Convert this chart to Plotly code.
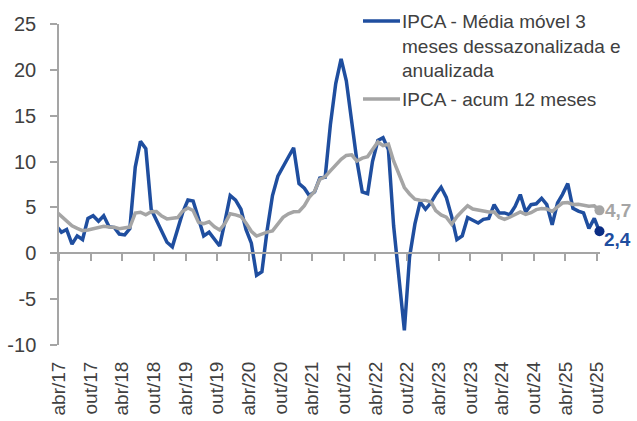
import pandas as pd
import plotly.graph_objects as go

# Monthly data, mar/17 .. out/25 (mar/17 only feeds the clipped line start)
months = pd.date_range("2017-03-01", "2025-10-01", freq="MS")

ipca_3m_saar_2017 = [3.0, 2.3, 2.6, 1.0, 1.9, 1.5, 3.8, 4.1, 3.5, 4.1]
ipca_3m_saar_2018 = [2.9, 2.8, 2.1, 2.0, 2.7, 9.4, 12.2, 11.4, 4.8, 3.6, 2.2, 1.2]
ipca_3m_saar_2019 = [0.7, 2.6, 4.4, 5.8, 5.7, 3.8, 1.9, 2.3, 1.6, 0.8, 3.5, 6.3]
ipca_3m_saar_2020 = [5.8, 4.8, 2.6, 1.1, -2.4, -2.0, 2.5, 6.3, 8.4, 9.5, 10.5, 11.5]
ipca_3m_saar_2021 = [7.6, 7.1, 6.3, 6.7, 8.2, 8.3, 14.0, 18.5, 21.2, 18.8, 14.5, 10.1]
ipca_3m_saar_2022 = [6.7, 6.5, 10.0, 12.3, 12.6, 11.3, 3.0, -2.9, -8.4, -0.4, 3.2, 5.6]
ipca_3m_saar_2023 = [4.8, 5.5, 6.4, 7.2, 6.1, 4.0, 1.5, 1.9, 3.9, 3.6, 3.3, 3.7]
ipca_3m_saar_2024 = [3.8, 5.3, 4.4, 4.4, 4.2, 5.1, 6.4, 4.5, 5.3, 5.4, 6.0, 5.3]
ipca_3m_saar_2025 = [3.1, 5.5, 6.4, 7.6, 4.9, 4.6, 4.4, 2.7, 3.8, 2.4]

ipca_12m_2017 = [4.57, 4.08, 3.60, 3.00, 2.71, 2.46, 2.54, 2.70, 2.80, 2.95]
ipca_12m_2018 = [2.86, 2.84, 2.68, 2.76, 2.86, 4.39, 4.48, 4.19, 4.53, 4.56, 4.05, 3.75]
ipca_12m_2019 = [3.78, 3.89, 4.58, 4.94, 4.66, 3.37, 3.22, 3.43, 2.89, 2.54, 3.27, 4.31]
ipca_12m_2020 = [4.19, 4.01, 3.30, 2.40, 1.88, 2.13, 2.31, 2.44, 3.14, 3.92, 4.31, 4.52]
ipca_12m_2021 = [4.56, 5.20, 6.10, 6.76, 8.06, 8.35, 8.99, 9.68, 10.25, 10.67, 10.74, 10.06]
ipca_12m_2022 = [10.38, 10.54, 11.30, 12.13, 11.73, 11.89, 10.07, 8.73, 7.17, 6.47, 5.90, 5.79]
ipca_12m_2023 = [5.77, 5.60, 4.65, 4.18, 3.94, 3.16, 3.99, 4.61, 5.19, 4.82, 4.68, 4.62]
ipca_12m_2024 = [4.51, 4.50, 3.93, 3.69, 3.93, 4.23, 4.50, 4.24, 4.42, 4.76, 4.87, 4.83]
ipca_12m_2025 = [4.56, 5.06, 5.48, 5.53, 5.32, 5.35, 5.23, 5.13, 5.17, 4.68]

ipca_3m = (ipca_3m_saar_2017 + ipca_3m_saar_2018 + ipca_3m_saar_2019 + ipca_3m_saar_2020
           + ipca_3m_saar_2021 + ipca_3m_saar_2022 + ipca_3m_saar_2023 + ipca_3m_saar_2024
           + ipca_3m_saar_2025)
ipca_12m = (ipca_12m_2017 + ipca_12m_2018 + ipca_12m_2019 + ipca_12m_2020 + ipca_12m_2021
            + ipca_12m_2022 + ipca_12m_2023 + ipca_12m_2024 + ipca_12m_2025)

tick_dates = pd.date_range("2017-04-01", "2025-10-01", freq="6MS")
month_pt = {4: "abr", 10: "out"}
tick_labels = [f"{month_pt[d.month]}/{d.year % 100:02d}" for d in tick_dates]

y_ticks = [-10, -5, 0, 5, 10, 15, 20, 25]
y_tick_labels = [str(v) for v in y_ticks]

name_3m = "IPCA - Média móvel 3<br>meses dessazonalizada e<br>anualizada"
name_12m = "IPCA - acum 12 meses"

BLUE = "#1F4E9F"
BLUE_DARK = "#0B2D84"
GRAY = "#A5A5A5"
TXT = "#404040"
FONT = "Arial, Liberation Sans, sans-serif"

x = months + pd.Timedelta(days=14)

fig = go.Figure()
fig.add_trace(go.Scatter(x=x, y=ipca_3m, mode="lines", name=name_3m,
                         line=dict(color=BLUE, width=3.5), showlegend=False))
fig.add_trace(go.Scatter(x=x, y=ipca_12m, mode="lines", name=name_12m,
                         line=dict(color=GRAY, width=3.5), showlegend=False))
fig.add_trace(go.Scatter(x=[x[-1]], y=[ipca_12m[-1]], mode="markers",
                         marker=dict(color=GRAY, size=10), showlegend=False, cliponaxis=False))
fig.add_trace(go.Scatter(x=[x[-1]], y=[ipca_3m[-1]], mode="markers",
                         marker=dict(color=BLUE_DARK, size=10), showlegend=False, cliponaxis=False))

def lab(v):
    return f"{v:.1f}".replace(".", ",")

fig.add_annotation(x=x[-1], y=ipca_12m[-1], xref="x", yref="y", xanchor="left",
                   yanchor="middle", xshift=4, showarrow=False,
                   text=f"<b>{lab(ipca_12m[-1])}</b>",
                   font=dict(color=GRAY, size=19, family=FONT))
fig.add_annotation(x=x[-1], y=ipca_3m[-1], xref="x", yref="y", xanchor="left",
                   yanchor="middle", xshift=3, yshift=-8, showarrow=False,
                   text=f"<b>{lab(ipca_3m[-1])}</b>",
                   font=dict(color=BLUE, size=19, family=FONT))

L, R, T, B = 59, 37, 24, 76
W, H = 637, 421
pw, ph = W - L - R, H - T - B

def px_x(p):
    return (p - L) / pw

def px_y(p):
    return (H - B - p) / ph

# manual legend
fig.add_shape(type="line", xref="paper", yref="paper", x0=px_x(363), x1=px_x(400),
              y0=px_y(21), y1=px_y(21), line=dict(color=BLUE, width=3.5))
fig.add_shape(type="line", xref="paper", yref="paper", x0=px_x(363), x1=px_x(400),
              y0=px_y(99), y1=px_y(99), line=dict(color=GRAY, width=3.5))
fig.add_annotation(xref="paper", yref="paper", x=px_x(400), y=px_y(9), xanchor="left",
                   yanchor="top", align="left", showarrow=False, text=name_3m,
                   font=dict(size=19, color=TXT, family=FONT))
fig.add_annotation(xref="paper", yref="paper", x=px_x(400), y=px_y(99), xanchor="left",
                   yanchor="middle", align="left", showarrow=False, text=name_12m,
                   font=dict(size=19, color=TXT, family=FONT))

fig.update_layout(
    width=W, height=H, margin=dict(l=L, r=R, t=T, b=B),
    paper_bgcolor="white", plot_bgcolor="white",
    font=dict(family=FONT, size=19, color=TXT),
    showlegend=False,
    xaxis=dict(type="date", range=["2017-04-01", "2025-10-18"], automargin=False,
               tickvals=tick_dates, ticktext=tick_labels, tickangle=-90,
               anchor="free", position=10 / 35,
               showline=True, linecolor=GRAY, linewidth=1.5,
               ticks="outside", ticklen=7, tickcolor=GRAY, tickwidth=1.5,
               showgrid=False, zeroline=False, ticklabelstandoff=93,
               tickfont=dict(size=19, color=TXT, family=FONT)),
    yaxis=dict(range=[-10, 25], tickvals=y_ticks, ticktext=y_tick_labels, automargin=False,
               showline=True, linecolor=GRAY, linewidth=1.5,
               ticks="outside", ticklen=7, tickcolor=GRAY, tickwidth=1.5,
               showgrid=False, zeroline=False, ticklabelstandoff=10,
               tickfont=dict(size=20, color=TXT, family=FONT)),
)

fig.write_html("out.html", config={"displayModeBar": False},
               post_script="document.body.style.margin='0px';")
